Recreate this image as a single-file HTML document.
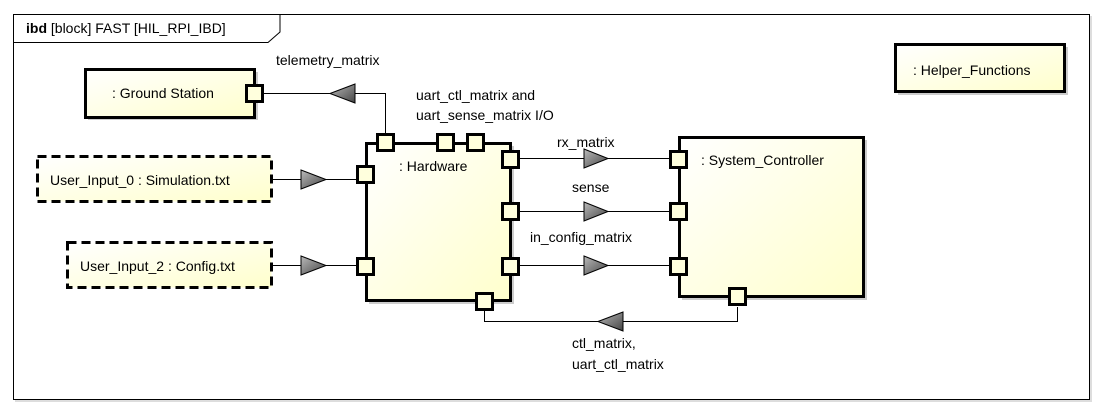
<!DOCTYPE html>
<html><head><meta charset="utf-8"><style>
html,body{margin:0;padding:0;background:#fff;}
text{font-family:"Liberation Sans",sans-serif;font-size:14px;fill:#000;}
</style></head><body>
<svg width="1104" height="413" viewBox="0 0 1104 413" xmlns="http://www.w3.org/2000/svg">
<defs>
<linearGradient id="g" x1="0" y1="0" x2="1" y2="1">
<stop offset="0" stop-color="#ffffff"/><stop offset="1" stop-color="#ffffcc"/>
</linearGradient>
<linearGradient id="ag" x1="0" y1="0" x2="1" y2="1">
<stop offset="0" stop-color="#bbbbbb"/><stop offset="1" stop-color="#444444"/>
</linearGradient>
</defs>
<!-- frame -->
<rect x="15" y="16" width="1077" height="386" fill="#ddd"/>
<rect x="13.5" y="14.5" width="1076" height="385" fill="#fff" stroke="#000" stroke-width="1"/>
<path d="M13.5 42.5 H268 L280 32 V14.5" fill="none" stroke="#000"/>
<text x="26" y="33"><tspan font-weight="bold">ibd</tspan> [block] FAST [HIL_RPI_IBD]</text>

<!-- connectors -->
<g stroke="#000" stroke-width="1" fill="none">
<path d="M264 93.5 H385.5 V133"/>
<path d="M272 179.5 H357"/>
<path d="M272 265.5 H357"/>
<path d="M520 158.5 H669"/>
<path d="M520 211.5 H669"/>
<path d="M520 265.5 H669"/>
<path d="M484.5 310 V321.5 H737.5 V307"/>
</g>
<g fill="url(#ag)" stroke="#000" stroke-width="1">
<polygon points="330,93.5 355,84 355,103"/>
<polygon points="301,170 326,179.5 301,189"/>
<polygon points="301,256 326,265.5 301,275"/>
<polygon points="584,149 608,158.5 584,168"/>
<polygon points="584,202 608,211.5 584,221"/>
<polygon points="584,256 608,265.5 584,275"/>
<polygon points="598,321.5 623,312 623,331"/>
</g>

<!-- Ground station -->
<rect x="88" y="72" width="170" height="48" fill="#ccc"/>
<rect x="85.5" y="69.5" width="169" height="48" fill="url(#g)" stroke="#000" stroke-width="3"/>
<text x="112" y="98">: Ground Station</text>

<!-- Inputs -->
<rect x="37.5" y="156.5" width="234" height="45" fill="url(#g)" stroke="#000" stroke-width="3" stroke-dasharray="9,5"/>
<text x="50" y="185">User_Input_0 : Simulation.txt</text>
<rect x="67.5" y="242.5" width="204" height="45" fill="url(#g)" stroke="#000" stroke-width="3" stroke-dasharray="9,5"/>
<text x="80" y="271">User_Input_2 : Config.txt</text>

<!-- Hardware -->
<rect x="369" y="146" width="145" height="158" fill="#ccc"/>
<rect x="366.5" y="143.5" width="144" height="157" fill="url(#g)" stroke="#000" stroke-width="3"/>
<text x="399" y="171">: Hardware</text>

<!-- System controller -->
<rect x="682" y="140" width="185" height="160" fill="#ccc"/>
<rect x="679.5" y="137.5" width="184" height="159" fill="url(#g)" stroke="#000" stroke-width="3"/>
<text x="701" y="165">: System_Controller</text>

<!-- Helper -->
<rect x="898" y="47" width="170" height="48" fill="#ccc"/>
<rect x="895.5" y="44.5" width="169" height="47" fill="url(#g)" stroke="#000" stroke-width="3"/>
<text x="913" y="75">: Helper_Functions</text>

<!-- ports -->
<g fill="#ffffdd" stroke="#000" stroke-width="3">
<rect x="246.5" y="85.5" width="16" height="16"/>
<rect x="377.5" y="134.5" width="16" height="16"/>
<rect x="437.5" y="134.5" width="16" height="16"/>
<rect x="467.5" y="134.5" width="16" height="16"/>
<rect x="357.5" y="166.5" width="16" height="16"/>
<rect x="357.5" y="258.5" width="16" height="16"/>
<rect x="502.5" y="151.5" width="16" height="16"/>
<rect x="502.5" y="203.5" width="16" height="16"/>
<rect x="502.5" y="258.5" width="16" height="16"/>
<rect x="476.5" y="293.5" width="16" height="16"/>
<rect x="670.5" y="151.5" width="16" height="16"/>
<rect x="670.5" y="203.5" width="16" height="16"/>
<rect x="670.5" y="258.5" width="16" height="16"/>
<rect x="729.5" y="288.5" width="16" height="16"/>
</g>

<!-- labels -->
<text x="276" y="65">telemetry_matrix</text>
<text x="416" y="100">uart_ctl_matrix and</text>
<text x="416" y="120">uart_sense_matrix I/O</text>
<text x="557" y="147">rx_matrix</text>
<text x="572" y="192">sense</text>
<text x="530" y="242">in_config_matrix</text>
<text x="572" y="348">ctl_matrix,</text>
<text x="572" y="369">uart_ctl_matrix</text>
</svg>
</body></html>
